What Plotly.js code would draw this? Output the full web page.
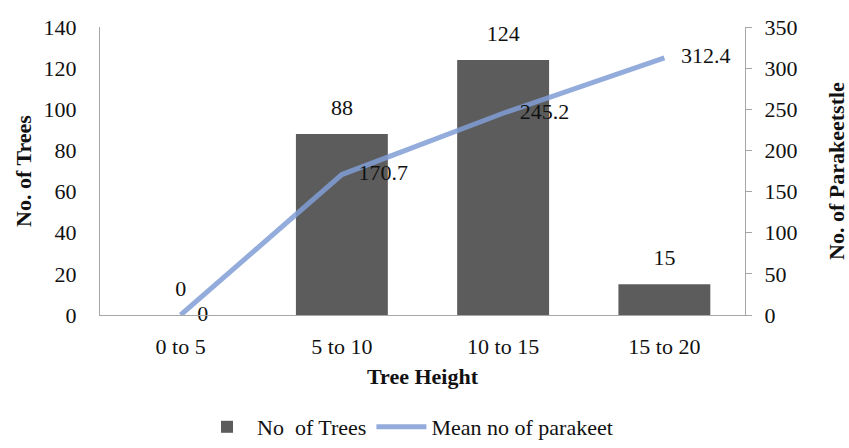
<!DOCTYPE html>
<html>
<head>
<meta charset="utf-8">
<script src="https://cdn.plot.ly/plotly-3.0.1.min.js"></script>
<style>
  html, body { margin: 0; padding: 0; background: #fff; }
  #chart { width: 849px; height: 448px; }
</style>
</head>
<body>
<div id="chart"></div>
<script>
// Tree height classes and counts
const heightClasses = ["0 to 5", "5 to 10", "10 to 15", "15 to 20"];
const treeCounts = [0, 88, 124, 15];
const meanParakeets = [0, 170.7, 245.2, 312.4];

const leftTicks = [0, 20, 40, 60, 80, 100, 120, 140];
const rightTicks = [0, 50, 100, 150, 200, 250, 300, 350];

const serif = "Liberation Serif";
const fs = 22;
const ink = "#111";

const bars = {
  type: "bar",
  name: "No  of Trees",
  x: heightClasses,
  y: treeCounts,
  width: 0.57,
  marker: { color: "#5c5c5c", line: { width: 0 } },
  hoverinfo: "skip"
};

// value labels above each bar, lifted clear of the bar top
const barLabels = {
  type: "scatter",
  mode: "markers+text",
  x: heightClasses,
  y: treeCounts,
  marker: { size: 20, opacity: 0 },
  text: treeCounts.map(String),
  textposition: "top center",
  textfont: { family: serif, size: fs, color: ink },
  cliponaxis: false,
  showlegend: false,
  hoverinfo: "skip"
};

const line = {
  type: "scatter",
  mode: "lines+text",
  name: "Mean no of parakeet",
  x: heightClasses,
  y: meanParakeets,
  yaxis: "y2",
  line: { color: "rgba(128,158,214,0.85)", width: 5 },
  text: meanParakeets.map(v => "   " + String(v)),
  textposition: "middle right",
  textfont: { family: serif, size: fs, color: ink },
  cliponaxis: false,
  hoverinfo: "skip"
};

const layout = {
  width: 849,
  height: 448,
  margin: { l: 100, r: 104, t: 27, b: 133 },
  paper_bgcolor: "#fff",
  plot_bgcolor: "#fff",
  font: { family: serif, size: fs, color: ink },
  showlegend: true,
  legend: {
    orientation: "h",
    x: 0.48,
    xanchor: "center",
    xref: "container",
    y: 0,
    yanchor: "bottom",
    yref: "container",
    itemwidth: 50,
    font: { family: serif, size: fs, color: ink },
    traceorder: "normal"
  },
  xaxis: {
    range: [-0.5, 3.5],
    showline: true,
    linecolor: "#a6a6a6",
    linewidth: 1,
    ticks: "",
    showgrid: false,
    zeroline: false,
    tickfont: { family: serif, size: fs, color: ink },
    ticklabelstandoff: 12,
    title: { text: "<b>Tree Height</b>", font: { family: serif, size: fs, color: ink }, standoff: 10 }
  },
  yaxis: {
    range: [0, 140],
    tickvals: leftTicks,
    ticktext: leftTicks.map(String),
    showline: true,
    linecolor: "#a6a6a6",
    linewidth: 1,
    ticks: "",
    showgrid: false,
    zeroline: false,
    tickfont: { family: serif, size: fs, color: ink },
    ticklabelstandoff: 18,
    title: { text: "<b>No. of Trees</b>", font: { family: serif, size: fs, color: ink }, standoff: 5 }
  },
  yaxis2: {
    range: [0, 350],
    overlaying: "y",
    side: "right",
    tickvals: rightTicks,
    ticktext: rightTicks.map(String),
    showline: true,
    linecolor: "#a6a6a6",
    linewidth: 1,
    ticks: "outside",
    ticklen: 6,
    tickcolor: "#a6a6a6",
    showgrid: false,
    zeroline: false,
    tickfont: { family: serif, size: fs, color: ink },
    ticklabelstandoff: 8,
    title: { text: "<b>No. of Parakeetstle</b>", font: { family: serif, size: fs, color: ink }, standoff: 32 }
  }
};

Plotly.newPlot("chart", [bars, barLabels, line], layout, { staticPlot: true, displayModeBar: false });
</script>
</body>
</html>
